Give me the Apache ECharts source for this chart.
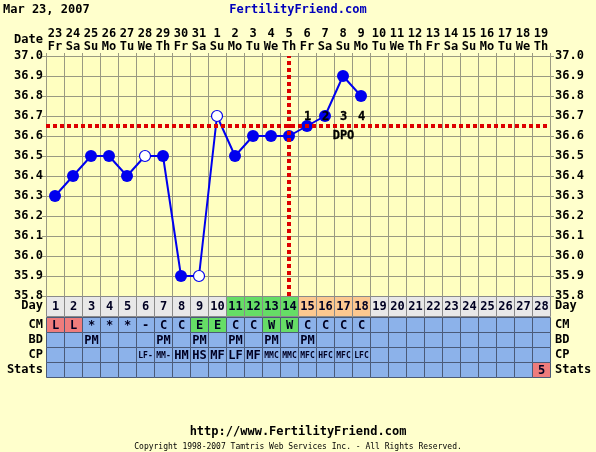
<!DOCTYPE html>
<html><head><meta charset="utf-8">
<script src="https://cdn.jsdelivr.net/npm/echarts@6/dist/echarts.min.js"></script>
<style>html,body{margin:0;padding:0;background:#ffffcc;}#c{width:596px;height:452px;}</style>
</head><body><div id="c"></div>
<script>
// ---------- data ----------
const dayNums = ['1','2','3','4','5','6','7','8','9','10','11','12','13','14','15','16','17','18','19','20','21','22','23','24','25','26','27','28'];
const dates = ['23','24','25','26','27','28','29','30','31','1','2','3','4','5','6','7','8','9','10','11','12','13','14','15','16','17','18','19'];
const weekdays = ['Fr','Sa','Su','Mo','Tu','We','Th','Fr','Sa','Su','Mo','Tu','We','Th','Fr','Sa','Su','Mo','Tu','We','Th','Fr','Sa','Su','Mo','Tu','We','Th'];
const temps = [36.3,36.4,36.5,36.5,36.4,36.5,36.5,35.9,35.9,36.7,36.5,36.6,36.6,36.6,36.65,36.7,36.9,36.8];
const openDays = ['6','9','10'];
const coverline = 36.65;
const ovulationDay = '14';
const dpoDays = ['15','16','17','18'];
const dpoLabels = ['1','2','3','4'];
const dpoTitleDay = '17';
const fertileDays = ['11','12','13','14'];
const lutealDays = ['15','16','17','18'];
const cm = ['L','L','*','*','*','-','C','C','E','E','C','C','W','W','C','C','C','C'];
const bd = ['','','PM','','','','PM','','PM','','PM','','PM','','PM','','',''];
const cp = ['','','','','','LF-','MM-','HM','HS','MF','LF','MF','MMC','MMC','MFC','HFC','MFC','LFC'];
const statsDays = ['28'];
const statsValues = ['5'];
const rowNames = ['CM','BD','CP','Stats'];
const yMin = 35.8, yMax = 37.0, yStep = 0.1;

// ---------- styles ----------
const FONT = 'DejaVu Sans Mono';
const BOLD12 = 'bold 12px "' + FONT + '"';
const GRID_C = '#9a9a82';
const BLUE_CELL = '#8cb2ea';
const RED_CELL = '#ee7c7c';
const GREEN_CELL = '#66dd66';
const ORANGE_CELL = '#fcc890';
const GRAY_CELL = '#e8e8e8';
const LINE_C = '#0000ee';

// table cells
const dayCells = dayNums.map((d, i) => ({
  x: i, y: 0, text: d,
  fill: fertileDays.includes(d) ? GREEN_CELL : (lutealDays.includes(d) ? ORANGE_CELL : GRAY_CELL)
}));
const infoCells = [];
dayNums.forEach((d, i) => {
  const c = cm[i] || '';
  infoCells.push({x: i, y: 0, text: c, fill: c === 'L' ? RED_CELL : ((c === 'E' || c === 'W') ? GREEN_CELL : BLUE_CELL)});
  infoCells.push({x: i, y: 1, text: bd[i] || '', fill: BLUE_CELL});
  infoCells.push({x: i, y: 2, text: cp[i] || '', fill: BLUE_CELL});
  const si = statsDays.indexOf(d);
  infoCells.push({x: i, y: 3, text: si >= 0 ? statsValues[si] : '', fill: si >= 0 ? RED_CELL : BLUE_CELL});
});

function makeRender(cells, stroke) {
  return function (params, api) {
    const cell = cells[params.dataIndex];
    const c = api.coord([cell.x, cell.y]);
    const s = api.size([1, 1]);
    const x0 = Math.round(c[0] - s[0] / 2), y0 = Math.round(c[1] - s[1] / 2);
    const w = Math.round(s[0]), h = Math.round(s[1]);
    const small = cell.text.length >= 3;
    return {
      type: 'group',
      children: [
        {type: 'rect', shape: {x: x0 + 0.5, y: y0 + 0.5, width: w, height: h},
         style: {fill: cell.fill, stroke: stroke, lineWidth: 1}},
        {type: 'text', style: {text: cell.text, x: c[0] + 0.5, y: c[1] + 1, align: 'center', verticalAlign: 'middle',
          fill: '#000022', font: 'bold ' + (small ? 8 : 12) + 'px "' + FONT + '"'}}
      ]
    };
  };
}

// DPO annotations (text placed via axis scale)
const dpoItems = dpoDays.map((d, i) => ({day: d, text: dpoLabels[i], above: true}))
  .concat([{day: dpoTitleDay, text: 'DPO', above: false}]);
function dpoRender(params, api) {
  const it = dpoItems[params.dataIndex];
  const c = api.coord([api.value(0), api.value(1)]);
  return {type: 'text', z2: 100, style: {text: it.text, x: c[0] + 0.5, y: it.above ? c[1] - 3 : c[1] + 4,
    align: 'center', verticalAlign: it.above ? 'bottom' : 'top', fill: '#000000', opacity: 1,
    font: BOLD12, stroke: '#000000', lineWidth: 0.3}};
}

const tempData = temps.map((t, i) => {
  const open = openDays.includes(dayNums[i]);
  return open ? {value: t, itemStyle: {color: '#ffffff', borderColor: LINE_C, borderWidth: 1.2}, symbolSize: 11} : t;
});

const lblFont = {fontFamily: FONT, fontWeight: 'bold', fontSize: 12, color: '#000000'};

const chart = echarts.init(document.getElementById('c'));
chart.setOption({
  animation: false,
  backgroundColor: '#ffffcc',
  grid: [
    {left: 46, top: 56, width: 504, height: 240, show: true, backgroundColor: '#ffffc0', borderWidth: 0},
    {left: 46, top: 296, width: 504, height: 20},
    {left: 46, top: 317, width: 504, height: 60}
  ],
  xAxis: [
    {gridIndex: 0, type: 'category', position: 'top', data: dayNums,
     axisLine: {show: true, lineStyle: {color: GRID_C}},
     axisTick: {show: true, length: 3, interval: 0, lineStyle: {color: GRID_C}},
     axisLabel: {interval: 0, margin: 3,
       formatter: (v, i) => '{d|' + dates[i] + '}\n{w|' + weekdays[i] + '}',
       rich: {d: Object.assign({lineHeight: 13}, lblFont), w: Object.assign({lineHeight: 13}, lblFont)}},
     splitLine: {show: true, interval: 0, lineStyle: {color: GRID_C, width: 1}}},
    {gridIndex: 1, type: 'category', data: dayNums, show: false},
    {gridIndex: 2, type: 'category', data: dayNums, show: false}
  ],
  yAxis: [
    {gridIndex: 0, type: 'value', min: yMin, max: yMax, interval: yStep, position: 'left',
     axisLine: {show: true, lineStyle: {color: GRID_C}},
     axisTick: {show: true, length: 4, lineStyle: {color: GRID_C}},
     axisLabel: Object.assign({margin: 3, formatter: v => v.toFixed(1)}, lblFont),
     splitLine: {show: true, lineStyle: {color: GRID_C, width: 1}}},
    {gridIndex: 0, type: 'value', min: yMin, max: yMax, interval: yStep, position: 'right',
     axisLine: {show: true, lineStyle: {color: GRID_C}},
     axisTick: {show: true, length: 4, lineStyle: {color: GRID_C}},
     axisLabel: Object.assign({margin: 5, formatter: v => v.toFixed(1)}, lblFont),
     splitLine: {show: false}},
    {gridIndex: 1, type: 'category', data: ['Day'], position: 'left', axisLine: {show: false}, axisTick: {show: false},
     axisLabel: Object.assign({margin: 3, interval: 0}, lblFont)},
    {gridIndex: 1, type: 'category', data: ['Day'], position: 'right', axisLine: {show: false}, axisTick: {show: false},
     axisLabel: Object.assign({margin: 5, interval: 0}, lblFont)},
    {gridIndex: 2, type: 'category', data: rowNames, inverse: true, position: 'left', axisLine: {show: false}, axisTick: {show: false},
     axisLabel: Object.assign({margin: 3, interval: 0}, lblFont)},
    {gridIndex: 2, type: 'category', data: rowNames, inverse: true, position: 'right', axisLine: {show: false}, axisTick: {show: false},
     axisLabel: Object.assign({margin: 5, interval: 0}, lblFont)}
  ],
  series: [
    {type: 'line', xAxisIndex: 0, yAxisIndex: 0, data: tempData, z: 5,
     symbol: 'circle', symbolSize: 12, showAllSymbol: true,
     lineStyle: {color: LINE_C, width: 2}, itemStyle: {color: LINE_C},
     markLine: {silent: true, symbol: ['none', 'none'], label: {show: false}, z: 6,
       lineStyle: {color: '#dd0000', width: 4, type: [4, 3]},
       data: [{yAxis: coverline}, {xAxis: dayNums.indexOf(ovulationDay)}]}},
    {type: 'custom', xAxisIndex: 0, yAxisIndex: 0, z: 20, silent: true,
     data: dpoItems.map(it => [dayNums.indexOf(it.day), coverline]),
     renderItem: dpoRender},
    {type: 'custom', xAxisIndex: 1, yAxisIndex: 2, data: dayCells.map(c => [c.x, c.y]),
     renderItem: makeRender(dayCells, '#8a8a8a'), silent: true},
    {type: 'custom', xAxisIndex: 2, yAxisIndex: 4, data: infoCells.map(c => [c.x, c.y]),
     renderItem: makeRender(infoCells, '#4a5a78'), silent: true}
  ],
  graphic: [
    {type: 'text', left: 3, top: 4, style: {text: 'Mar 23, 2007', font: BOLD12, fill: '#000000'}},
    {type: 'text', left: 'center', top: 4, style: {text: 'FertilityFriend.com', font: BOLD12, fill: '#0000bb'}},
    {type: 'text', right: 553, top: 34, style: {text: 'Date', font: BOLD12, fill: '#000000'}},
    {type: 'text', left: 'center', top: 426, style: {text: 'http://www.FertilityFriend.com', font: BOLD12, fill: '#000000'}},
    {type: 'text', left: 'center', top: 443, style: {text: 'Copyright 1998-2007 Tamtris Web Services Inc. - All Rights Reserved.', font: '8px "' + FONT + '"', fill: '#000000'}}
  ]
});
</script></body></html>
